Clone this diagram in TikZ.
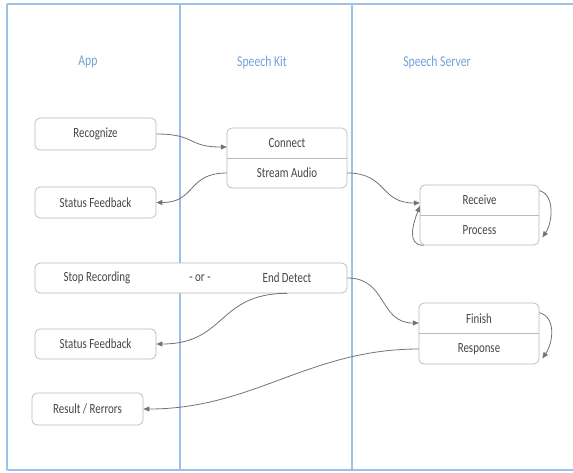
\documentclass[tikz,border=0pt]{standalone}
\usepackage{fontspec}
\setmainfont{Carlito}[FakeStretch=0.78]
\usetikzlibrary{arrows.meta}

\definecolor{laneBlue}{RGB}{155,194,230}
\definecolor{titleBlue}{RGB}{110,162,218}
\definecolor{boxGray}{RGB}{185,185,185}
\definecolor{textGray}{RGB}{70,70,70}
\definecolor{arrowGray}{RGB}{115,115,115}

\begin{document}
\begin{tikzpicture}[x=1pt, y=-1pt,
            every node/.style={font=\fontsize{14}{16}\selectfont}]
            \tikzstyle{laneLine} = [draw=laneBlue, line width=1.2]
            \tikzstyle{laneTitle} = [text=titleBlue, font=\fontsize{15}{17}\selectfont]
            \tikzstyle{boxStyle} = [draw=boxGray, rounded corners=5pt, fill=white, line width=0.7, text=textGray]
            \tikzstyle{textStyle} = [text=textGray, inner sep=0]
            \tikzstyle{partStyle} = [textStyle, minimum width=120, minimum height=30]
            \tikzstyle{dividerLine} = [draw=boxGray, line width=0.7]
            \tikzstyle{flowEdge} = [draw=arrowGray, line width=0.8, -{Triangle[length=6pt,width=5pt]}]
            \useasboundingbox (0,0) rectangle (573,472);

            % swim lanes
            \foreach \x in {7,180,352}
                \draw[laneLine] (\x,4) -- (\x,470);
            \draw[laneLine] (7,4) -- (573,4);
            \draw[laneLine] (7,470) -- (573,470);
            \node[laneTitle] (appTitle) at (88,62) {App};
            \node[laneTitle] (kitTitle) at (262,62) {Speech Kit};
            \node[laneTitle] (serverTitle) at (437,62) {Speech Server};

            % app side
            \node[boxStyle, minimum width=121, minimum height=32] (recognize) at (95.5,134) {Recognize};
            \node[boxStyle, minimum width=121, minimum height=31] (status1) at (95.5,202.5) {Status Feedback};
            \node[boxStyle, minimum width=312, minimum height=30] (stopBox) at (191,278) {};
            \node[textStyle] (stopRec) at (97,278) {Stop Recording};
            \node[textStyle] (orText) at (200,278) {- or -};
            \node[textStyle] (endDetect) at (287,278) {End Detect};
            \node[boxStyle, minimum width=121, minimum height=30] (status2) at (95.5,344) {Status Feedback};
            \node[boxStyle, minimum width=111, minimum height=32] (result) at (87.5,409) {Result / Rerrors};

            % speech kit
            \node[boxStyle, minimum width=120, minimum height=60] (kitBox) at (287,158) {};
            \draw[dividerLine] (kitBox.west) -- (kitBox.east);
            \node[partStyle] (connect) at (287,143) {Connect};
            \node[partStyle] (stream) at (287,173) {Stream Audio};

            % speech server
            \node[boxStyle, minimum width=119, minimum height=60] (receiveBox) at (479.5,215) {};
            \draw[dividerLine] (receiveBox.west) -- (receiveBox.east);
            \node[partStyle, minimum width=119] (receive) at (479.5,200) {Receive};
            \node[partStyle, minimum width=119] (process) at (479.5,230) {Process};
            \node[boxStyle, minimum width=120, minimum height=61] (finishBox) at (479,333.5) {};
            \draw[dividerLine] (finishBox.west) -- (finishBox.east);
            \node[partStyle] (finish) at (479,318.5) {Finish};
            \node[partStyle] (response) at (479,349) {Response};

            % flow
            \draw[flowEdge] (recognize.east) .. controls +(40,0) and +(-40,0) .. ([yshift=-4pt]connect.west);
            \draw[flowEdge] (stream.west) .. controls +(-40,0) and +(40,0) .. (status1.east);
            \draw[flowEdge] (stream.east) .. controls +(40,0) and +(-40,0) .. ([yshift=-3pt]receive.west);
            \draw[flowEdge] ([xshift=4pt]receiveBox.south west) .. controls +(-18,0) and +(-6,16) .. ([yshift=-6pt]receive.west);
            \draw[flowEdge] ([yshift=-6pt]receiveBox.north east) .. controls +(16,4) and +(10,-14) .. ([xshift=3pt,yshift=8pt]receiveBox.south east);
            \draw[flowEdge] (stopBox.east) .. controls +(40,0) and +(-40,0) .. ([yshift=-4.5pt]finish.west);
            \draw[flowEdge] (endDetect |- stopBox.south) .. controls +(-70,0) and +(70,0) .. (status2.east);
            \draw[flowEdge] ([yshift=-10pt]finishBox.north east) .. controls +(18,5) and +(10,-14) .. ([xshift=3pt,yshift=6pt]finishBox.south east);
            \draw[flowEdge] (response.west) .. controls +(-110,0) and +(110,0) .. (result.east);
        \end{tikzpicture}
\end{document}
